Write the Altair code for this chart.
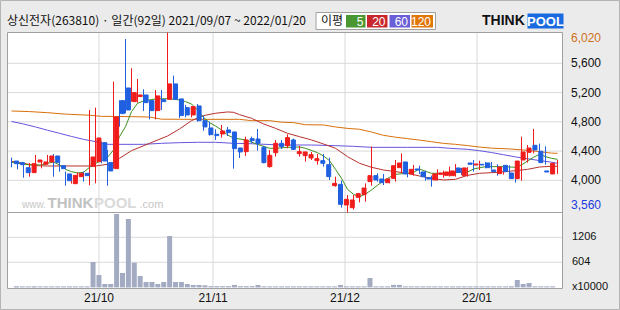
import altair as alt
import pandas as pd

# ---------------- data ----------------
opens = [4264, 4242, 4173, 4105, 4251, 4219, 4251, 4333, 4200, 4087,
         3954, 4050, 4096, 4192, 4255, 4515, 4242, 4160, 5090, 5263,
         5076, 5145, 5167, 5090, 4953, 5103, 5108, 5318, 5113, 4994,
         4894, 5017, 4816, 4716, 4630, 4634, 4689, 4661, 4442, 4392,
         4570, 4565, 4451, 4187, 4378, 4506, 4474, 4552, 4365, 4337,
         4305, 4269, 4269, 4214, 3927, 3945, 3663, 3626, 3767, 3804,
         3982, 4064, 4018, 3968, 4027, 4173, 4251, 4087, 4155, 4114,
         4036, 4005, 4082, 4068, 4064, 4169, 4064, 4237, 4210, 4219,
         4237, 4141, 4091, 4205, 4100, 4023, 4278, 4383, 4479, 4397,
         4128, 4087]
highs = [4310, 4264, 4210, 4237, 4347, 4251, 4347, 4360, 4246, 4119,
         4087, 4109, 4119, 4962, 4994, 4529, 4415, 5350, 5095, 5933,
         5532, 5386, 5245, 5095, 5236, 5236, 6020, 5432, 5113, 5031,
         5008, 5044, 4885, 4803, 4698, 4757, 4730, 4661, 4442, 4597,
         4597, 4702, 4470, 4415, 4552, 4552, 4629, 4570, 4470, 4388,
         4388, 4360, 4360, 4310, 4050, 3995, 3799, 3799, 3818, 3959,
         4461, 4096, 4087, 4027, 4278, 4369, 4251, 4210, 4200, 4132,
         4064, 4150, 4132, 4187, 4223, 4169, 4180, 4278, 4269, 4251,
         4251, 4219, 4205, 4205, 4150, 4597, 4483, 4702, 4502, 4465,
         4233, 4278]
lows = [4178, 4150, 4036, 4050, 4210, 4164, 4242, 4050, 4119, 3927,
        3954, 4032, 3982, 3932, 3959, 4233, 3927, 4160, 4734, 4917,
        5076, 5062, 4948, 4834, 4834, 4962, 5108, 5108, 4853, 4862,
        4862, 4803, 4679, 4611, 4552, 4584, 4606, 4160, 4305, 4333,
        4506, 4406, 4233, 4173, 4324, 4429, 4438, 4415, 4324, 4255,
        4278, 4214, 4187, 4005, 3913, 3626, 3560, 3600, 3699, 3708,
        3927, 3982, 3936, 3959, 3982, 4096, 4041, 4064, 4087, 3995,
        3913, 3995, 4036, 4050, 4050, 4073, 4050, 4119, 4141, 4164,
        4146, 4064, 4078, 4073, 3968, 3995, 4242, 4369, 4360, 4214,
        4087, 4087]
closes = [4228, 4214, 4105, 4228, 4278, 4251, 4333, 4246, 4160, 3995,
          4068, 4096, 4064, 4319, 4579, 4264, 4128, 4866, 4912, 4962,
          5199, 5167, 5062, 4953, 5154, 5076, 5318, 5108, 4885, 4894,
          5008, 4816, 4730, 4625, 4611, 4675, 4652, 4433, 4388, 4552,
          4543, 4506, 4242, 4342, 4506, 4461, 4584, 4424, 4392, 4388,
          4351, 4296, 4233, 4050, 3959, 3672, 3740, 3731, 3818, 3895,
          4064, 4005, 3968, 4018, 4200, 4237, 4087, 4150, 4141, 4050,
          4018, 4087, 4100, 4114, 4128, 4109, 4169, 4219, 4223, 4210,
          4173, 4119, 4182, 4119, 4023, 4264, 4388, 4442, 4415, 4242,
          4114, 4233]
# volume, unit x10000
volumes = [25, 25, 25, 25, 25, 25, 25, 25, 25, 25,
           25, 25, 25, 611, 299, 82, 82, 1767, 347, 1647,
           595, 275, 130, 130, 82, 130, 1238, 130, 130, 82,
           58, 58, 50, 30, 30, 30, 30, 60, 30, 30,
           30, 55, 25, 25, 25, 25, 25, 25, 25, 25,
           25, 25, 25, 25, 25, 58, 25, 25, 25, 25,
           226, 25, 25, 25, 60, 60, 25, 25, 25, 25,
           25, 25, 25, 25, 25, 25, 25, 25, 25, 25,
           25, 25, 25, 25, 25, 178, 82, 106, 25, 25,
           25, 25]

ma5_idx = [0, 2, 3, 5, 6, 7, 8, 9, 10, 11, 12, 13, 14, 15, 16, 17, 18, 19, 20, 21,
           22, 24, 26, 28, 29, 30, 31, 32, 33, 34, 35, 36, 37, 39, 41, 43, 44, 46, 48, 49,
           51, 52, 53, 54, 55, 56, 57, 58, 59, 60, 61, 62, 63, 64, 66, 67, 68, 69, 70, 73,
           74, 76, 77, 79, 82, 84, 85, 86, 87, 88, 89, 90, 91]
ma5_val = [4246, 4223, 4210, 4210, 4233, 4251, 4210, 4150, 4119, 4100, 4109, 4178, 4233, 4269, 4315, 4415, 4597, 4734, 4939, 5053,
           5085, 5113, 5117, 5099, 5076, 5044, 4962, 4862, 4789, 4743, 4689, 4620, 4579, 4552, 4492, 4438, 4438, 4451, 4456, 4438,
           4378, 4333, 4269, 4150, 4027, 3877, 3808, 3777, 3813, 3868, 3932, 3995, 4041, 4082, 4096, 4109, 4155, 4123, 4096, 4096,
           4105, 4114, 4155, 4187, 4187, 4178, 4210, 4264, 4315, 4356, 4324, 4301, 4287]

ma20_idx = [0, 2, 4, 6, 14, 16, 17, 18, 20, 23, 26, 28, 30, 32, 34, 36, 37, 38, 40, 42, 44, 46,
            48, 50, 52, 54, 56, 58, 60, 62, 64, 66, 68, 70, 72, 74, 76, 78, 81, 84, 86, 88, 90, 91]
ma20_val = [4260, 4233, 4201, 4196, 4196, 4219, 4242, 4301, 4406, 4506, 4606, 4702, 4816, 4885, 4917, 4935, 4930, 4898, 4848, 4771, 4711, 4643,
            4597, 4552, 4497, 4438, 4324, 4233, 4178, 4141, 4119, 4096, 4059, 4027, 4005, 4014, 4068, 4096, 4109, 4132, 4150, 4182, 4192, 4192]

ma60_idx = [0, 2, 4, 6, 8, 10, 12, 14, 16, 22, 25, 28, 31, 34, 37, 40, 45, 50, 54, 57, 60, 66, 71,
            73, 76, 78, 80, 82, 84, 86, 88, 90, 91]
ma60_val = [4805, 4770, 4730, 4685, 4643, 4600, 4560, 4530, 4492, 4492, 4506, 4515, 4520, 4520, 4506, 4500, 4483, 4483, 4474, 4465, 4451, 4451, 4451,
            4438, 4424, 4405, 4380, 4350, 4320, 4295, 4270, 4248, 4233]

ma120_idx = [0, 3, 6, 9, 13, 15, 20, 23, 25, 30, 38, 40, 43, 45, 47, 49, 52, 54, 56, 58, 60, 62, 64, 66,
             68, 70, 72, 74, 76, 78, 80, 83, 86, 88, 90, 91]
ma120_val = [4948, 4940, 4925, 4905, 4890, 4875, 4871, 4865, 4836, 4834, 4834, 4816, 4816, 4795, 4789, 4760, 4757, 4730, 4710, 4698, 4660, 4615, 4590, 4570,
             4550, 4528, 4505, 4492, 4475, 4455, 4440, 4429, 4410, 4392, 4372, 4369]

month_idx = [15, 34, 56, 78]
month_labels = ["21/10", "21/11", "21/12", "22/01"]
price_ticks = [4000, 4400, 4800, 5200, 5600]
price_max = 6020
price_min = 3560
vol_ticks = [604, 1206]

title_text = "상신전자(263810) · 일간(92일) 2021/09/07 ~ 2022/01/20"

# ---------------- styling ----------------
UP = "#f01c1c"
DOWN = "#1f5fe0"
C5, C20, C60, C120 = "#3f8f1f", "#b8322d", "#6655dd", "#d9700a"
GRID = "#d9d9d9"
FRAME = "#a0a0a0"
NUMFONT = "Liberation Sans"
KRFONT = "Noto Sans CJK KR"

XS = alt.Scale(domain=[-0.5, 91.83], range=[8.5, 562.5], nice=False, zero=False)
PY = alt.Scale(domain=[price_min, price_max], range=[212.5, 32.6], nice=False, zero=False)
VY = alt.Scale(domain=[0, 1810], range=[287.4, 212.2], nice=False, zero=False)

one = pd.DataFrame({"k": [0]})


def rect(x0, x1, y0, y1, **kw):
    return alt.Chart(one).mark_rect(**kw).encode(
        x=alt.value(x0), x2=alt.value(x1), y=alt.value(y0), y2=alt.value(y1))


def label(x, y, txt, **kw):
    return alt.Chart(one).mark_text(text=txt, **kw).encode(x=alt.value(x), y=alt.value(y))


n = len(opens)
df = pd.DataFrame({"i": list(range(n)), "open": opens, "high": highs,
                   "low": lows, "close": closes, "vol": volumes})

layers = []
# frames
layers.append(rect(0.5, 619.5, 0.5, 309.5, fill="#ebebeb", stroke="#b4b4b4", strokeWidth=1))
layers.append(rect(7.5, 562.5, 32.5, 288.5, fill="white", stroke=FRAME, strokeWidth=1))

# grid lines
pg = pd.DataFrame({"v": price_ticks})
layers.append(alt.Chart(pg).mark_rule(color=GRID, strokeWidth=1).encode(
    x=alt.value(8), x2=alt.value(562), y=alt.Y("v:Q", scale=PY, axis=None)))
vg = pd.DataFrame({"v": vol_ticks})
layers.append(alt.Chart(vg).mark_rule(color=GRID, strokeWidth=1).encode(
    x=alt.value(8), x2=alt.value(562), y=alt.Y("v:Q", scale=VY, axis=None)))
mg = pd.DataFrame({"i": month_idx, "lab": month_labels})
layers.append(alt.Chart(mg).transform_calculate(g="datum.i - 0.42").mark_rule(color=GRID, strokeWidth=1).encode(
    x=alt.X("g:Q", scale=XS, axis=None), y=alt.value(33), y2=alt.value(288)))
# panel separator
layers.append(alt.Chart(one).mark_rule(color=FRAME, strokeWidth=1).encode(
    x=alt.value(7.5), x2=alt.value(562.5), y=alt.value(212.5)))

# watermark
layers.append(label(22, 205, "www.", fontSize=10, font=NUMFONT, color="#c6c6c6", align="left", baseline="middle"))
layers.append(label(47.5, 203, "THINK", fontSize=15, fontWeight="bold", font=NUMFONT, color="#c2c2c2", align="left", baseline="middle"))
layers.append(label(94, 203, "POOL", fontSize=15, fontWeight="bold", font=NUMFONT, color="#dadada", align="left", baseline="middle"))
layers.append(label(139.5, 205, ".com", fontSize=11, font=NUMFONT, color="#c6c6c6", align="left", baseline="middle"))

# moving averages
for ids, vals, col in [(ma120_idx, ma120_val, C120), (ma60_idx, ma60_val, C60),
                       (ma20_idx, ma20_val, C20), (ma5_idx, ma5_val, C5)]:
    layers.append(alt.Chart(pd.DataFrame({"i": ids, "v": vals})).mark_line(color=col, strokeWidth=1).encode(
        x=alt.X("i:Q", scale=XS, axis=None), y=alt.Y("v:Q", scale=PY, axis=None)))

# volume bars
layers.append(alt.Chart(df).mark_bar(size=5, color="#a3abc3").encode(
    x=alt.X("i:Q", scale=XS, axis=None), y=alt.Y("vol:Q", scale=VY, axis=None)))

# candles
base = alt.Chart(df).transform_calculate(dir="datum.close >= datum.open ? 'up' : 'down'")
cscale = alt.Scale(domain=["up", "down"], range=[UP, DOWN])
layers.append(base.mark_rule(strokeWidth=1).encode(
    x=alt.X("i:Q", scale=XS, axis=None), y=alt.Y("low:Q", scale=PY, axis=None), y2="high:Q",
    color=alt.Color("dir:N", scale=cscale, legend=None)))
layers.append(base.mark_bar(size=4, strokeWidth=1).encode(
    x=alt.X("i:Q", scale=XS, axis=None), y=alt.Y("open:Q", scale=PY, axis=None), y2="close:Q",
    color=alt.Color("dir:N", scale=cscale, legend=None),
    stroke=alt.Stroke("dir:N", scale=cscale, legend=None)))

# price labels (right)
layers.append(alt.Chart(pg).mark_text(align="left", baseline="middle", fontSize=12, font=NUMFONT, color="#111111").encode(
    x=alt.value(571), y=alt.Y("v:Q", scale=PY, axis=None), text=alt.Text("v:Q", format=",")))
layers.append(alt.Chart(pd.DataFrame({"v": [price_max]})).mark_text(align="left", baseline="top", dy=0, fontSize=12, font=NUMFONT, color="#d07018").encode(
    x=alt.value(571), y=alt.Y("v:Q", scale=PY, axis=None), text=alt.Text("v:Q", format=",")))
layers.append(alt.Chart(pd.DataFrame({"v": [price_min]})).mark_text(align="left", baseline="bottom", dy=-1, fontSize=12, font=NUMFONT, color="#1a3ce0").encode(
    x=alt.value(571), y=alt.Y("v:Q", scale=PY, axis=None), text=alt.Text("v:Q", format=",")))
# volume labels
layers.append(alt.Chart(vg).mark_text(align="left", baseline="middle", fontSize=11, font=NUMFONT, color="#111111").encode(
    x=alt.value(572), y=alt.Y("v:Q", scale=VY, axis=None), text=alt.Text("v:Q", format="d")))
layers.append(alt.Chart(pd.DataFrame({"v": [0]})).mark_text(align="left", baseline="middle", fontSize=11, font=NUMFONT, color="#111111", text="x10000").encode(
    x=alt.value(572), y=alt.Y("v:Q", scale=VY, axis=None)))
# month labels
layers.append(alt.Chart(mg).transform_calculate(g="datum.i - 0.42").mark_text(align="center", baseline="middle", fontSize=12, font=NUMFONT, color="#111111").encode(
    x=alt.X("g:Q", scale=XS, axis=None), y=alt.value(298), text="lab:N"))

# header
layers.append(label(7, 21, title_text, fontSize=12, font=KRFONT, color="#111111", align="left", baseline="middle"))
# MA legend
layers.append(rect(316, 435.5, 12.5, 29.5, fill="white", stroke=FRAME, strokeWidth=1))
layers.append(label(321, 21, "이평", fontSize=12, font=KRFONT, color="#111111", align="left", baseline="middle"))
for x0, x1, col, txt in [(346, 365.5, "#4a9630", "5"), (367, 387.5, "#c8282d", "20"),
                         (389.5, 410, "#6a5fd8", "60"), (411.5, 433, "#e07508", "120")]:
    layers.append(rect(x0, x1, 15, 27.5, fill=col))
    layers.append(label(x1 - 2, 21.5, txt, fontSize=12, font=NUMFONT, color="white", align="right", baseline="middle"))
# logo
layers.append(label(482, 21, "THINK", fontSize=14, fontWeight="bold", font=NUMFONT, color="#111111", align="left", baseline="middle"))
layers.append(rect(527.5, 563.5, 13.5, 28.5, fill="#1a6be0"))
layers.append(label(545.5, 21.5, "POOL", fontSize=13, fontWeight="bold", font=NUMFONT, color="white", align="center", baseline="middle"))

chart = alt.layer(*layers).resolve_scale(
    x="independent", y="independent", color="independent", stroke="independent"
).properties(
    width=620, height=310, autosize=alt.AutoSizeParams(type="none"), padding=0, background="#ebebeb"
).configure_view(stroke=None)

chart.save("out.html", embed_options={"renderer": "svg", "actions": False})
